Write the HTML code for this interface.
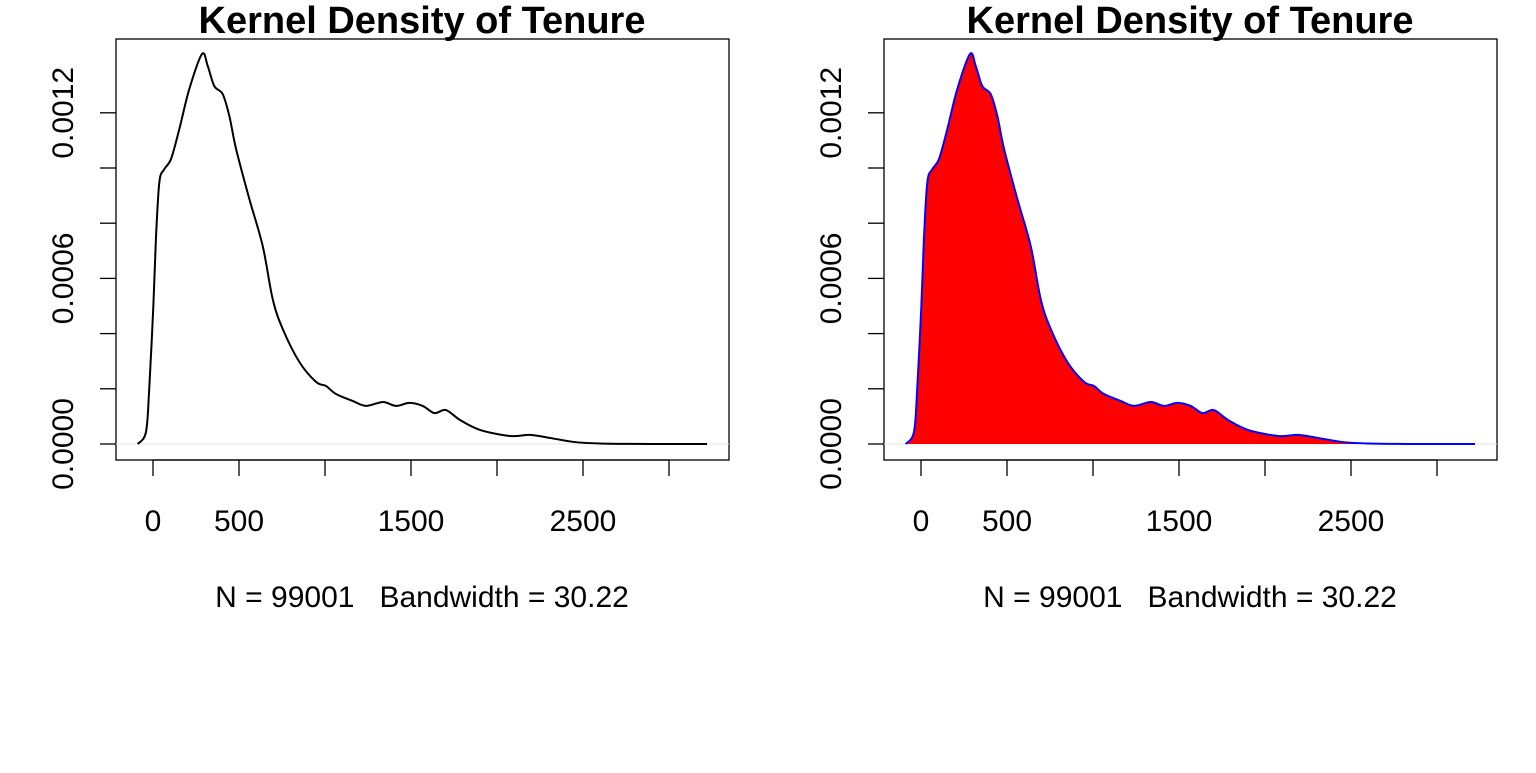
<!DOCTYPE html>
<html><head><meta charset="utf-8"><style>
body{margin:0;background:#fff}
svg text{font-family:"Liberation Sans",Arial,sans-serif;fill:#000}
</style></head><body>
<svg id="chart" width="1536" height="768" xmlns="http://www.w3.org/2000/svg"></svg>
<script>
const xs=[-89,-41,-22,2,17,37,66,105,153,211,285,318,356,405,444,483,560,638,696,754,851,948,1006,1064,1161,1238,1336,1413,1490,1568,1636,1703,1785,1901,2076,2192,2308,2453,2599,2890,3221];
const ys=[0,0.000043,0.000199,0.0005,0.000743,0.000949,0.000996,0.001033,0.001141,0.001286,0.001413,0.00137,0.001297,0.001268,0.001188,0.001069,0.000888,0.000717,0.000525,0.000417,0.000297,0.000225,0.00021,0.000181,0.000156,0.000138,0.000152,0.000138,0.000149,0.000138,0.000112,0.000123,0.000087,0.000051,0.000029,0.000033,0.000022,0.000007,0.000002,0,0];
const xTicks=[0,500,1000,1500,2000,2500,3000];
const xLabels=["0","500","","1500","","2500",""];
const yTicks=[0,0.0002,0.0004,0.0006,0.0008,0.001,0.0012];
const yLabels=["0.0000","","","0.0006","","","0.0012"];
const NS="http://www.w3.org/2000/svg";
const svg=document.getElementById('chart');
function mk(tag,attrs,parent){const e=document.createElementNS(NS,tag);for(const k in attrs)e.setAttribute(k,attrs[k]);(parent||svg).appendChild(e);return e;}
function panel(off,filled,id){
  const g=mk('g',{});
  
  
  const X=v=>153+off+v*86/500, Y=v=>444-v*55.2/0.0002;
  const box=mk('rect',{x:116+off,y:39,width:613,height:421,fill:'none',stroke:'#000','stroke-width':1.3},g);
  
  const zl=mk('line',{x1:116+off,x2:729+off,y1:Y(0),y2:Y(0),stroke:'#e6e6e6','stroke-width':1},g);
  
  const t=mk('text',{x:422+off,y:33,'text-anchor':'middle','font-size':38,'font-weight':'bold'},g);t.textContent='Kernel Density of Tenure';
  
  xTicks.forEach((v,i)=>{mk('line',{x1:X(v),x2:X(v),y1:460,y2:476,stroke:'#000','stroke-width':1.3},g);
    if(xLabels[i]){const l=mk('text',{x:X(v),y:531,'text-anchor':'middle','font-size':30},g);l.textContent=xLabels[i];
    }});
  mk('line',{x1:X(0),x2:X(3000),y1:460,y2:460,stroke:'#000','stroke-width':1.3},g);
  yTicks.forEach((v,i)=>{mk('line',{x1:100+off,x2:116+off,y1:Y(v),y2:Y(v),stroke:'#000','stroke-width':1.3},g);
    if(yLabels[i]){const l=mk('text',{x:0,y:0,'text-anchor':'middle','font-size':30,transform:`translate(${73+off},${Y(v)}) rotate(-90)`},g);l.textContent=yLabels[i];
    }});
  const s=mk('text',{x:422+off,y:607,'text-anchor':'middle','font-size':30,style:'white-space:pre'},g);s.textContent='N = 99001   Bandwidth = 30.22';
  
  const P=xs.map((v,i)=>[X(v),Y(ys[i])]);
  let d=`M${P[0][0]},${P[0][1]}`;
  for(let i=0;i<P.length-1;i++){const p0=P[Math.max(0,i-1)],p1=P[i],p2=P[i+1],p3=P[Math.min(P.length-1,i+2)];
    d+=` C${p1[0]+(p2[0]-p0[0])/6},${p1[1]+(p2[1]-p0[1])/6} ${p2[0]-(p3[0]-p1[0])/6},${p2[1]-(p3[1]-p1[1])/6} ${p2[0]},${p2[1]}`;}
  if(filled){const f=mk('path',{d:d+` L${P[P.length-1][0]},${Y(0)} L${P[0][0]},${Y(0)}Z`,fill:'#ff0000',stroke:'none'},g);
    }
  const c=mk('path',{d:d,fill:'none',stroke:filled?'#0000ff':'#000','stroke-width':2},g);
  
}
panel(0,false,'density-plot-left');
panel(768,true,'density-plot-right');
</script>
</body></html>
